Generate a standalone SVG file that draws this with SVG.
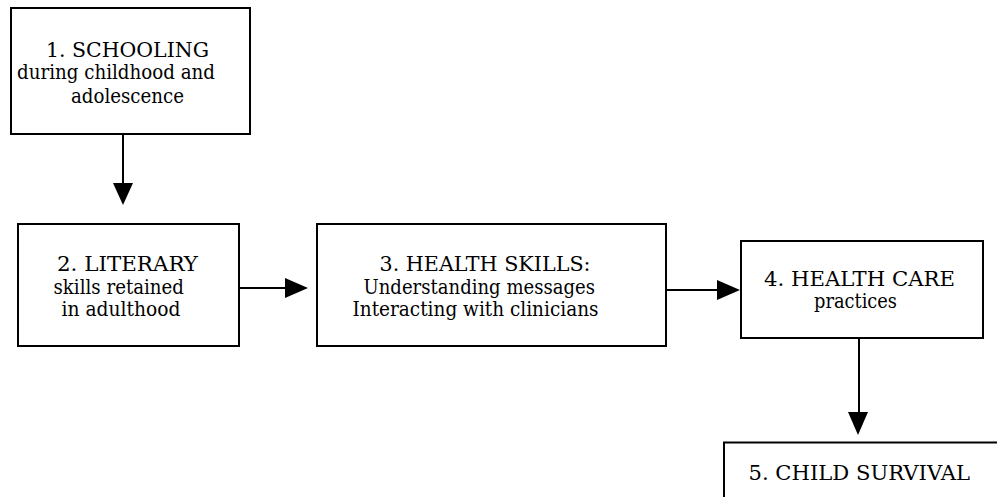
<svg xmlns="http://www.w3.org/2000/svg" width="997" height="497" viewBox="0 0 997 497">
<style>
.box{fill:#fff;stroke:#000;stroke-width:2}
.t{font-family:"DejaVu Serif","Liberation Serif",serif;font-size:20px;fill:#000}
.c{stroke:#000;stroke-width:2;fill:none}
.h{fill:#000;stroke:none}
</style>
<rect width="997" height="497" fill="#fff"/>
<g id="node1">
<rect class="box" x="11" y="8" width="239" height="126"/>
<text class="t" x="46" y="56.5" textLength="163" lengthAdjust="spacingAndGlyphs">1. SCHOOLING</text>
<text class="t" x="17" y="78.5" textLength="198" lengthAdjust="spacingAndGlyphs">during childhood and</text>
<text class="t" x="71" y="102.5" textLength="113" lengthAdjust="spacingAndGlyphs">adolescence</text>
</g>
<g id="node2">
<rect class="box" x="18" y="224" width="221" height="122"/>
<text class="t" x="57" y="270.5" textLength="141" lengthAdjust="spacingAndGlyphs">2. LITERARY</text>
<text class="t" x="53.5" y="294" textLength="130.5" lengthAdjust="spacingAndGlyphs">skills retained</text>
<text class="t" x="61.5" y="316" textLength="119" lengthAdjust="spacingAndGlyphs">in adulthood</text>
</g>
<g id="node3">
<rect class="box" x="317" y="224" width="349" height="122"/>
<text class="t" x="379.5" y="270.5" textLength="211" lengthAdjust="spacingAndGlyphs">3. HEALTH SKILLS:</text>
<text class="t" x="363.5" y="294" textLength="231.5" lengthAdjust="spacingAndGlyphs">Understanding messages</text>
<text class="t" x="352.5" y="316" textLength="246" lengthAdjust="spacingAndGlyphs">Interacting with clinicians</text>
</g>
<g id="node4">
<rect class="box" x="741" y="241" width="242" height="97"/>
<text class="t" x="764" y="285.5" textLength="191" lengthAdjust="spacingAndGlyphs">4. HEALTH CARE</text>
<text class="t" x="814" y="307.5" textLength="83" lengthAdjust="spacingAndGlyphs">practices</text>
</g>
<g id="node5">
<rect class="box" x="724" y="442.5" width="290" height="80"/>
<text class="t" x="748.5" y="480" textLength="221.5" lengthAdjust="spacingAndGlyphs">5. CHILD SURVIVAL</text>
</g>
<g id="connectors">
<line class="c" x1="123" y1="134" x2="123" y2="184"/>
<polygon class="h" points="113,183 133,183 123,205"/>
<line class="c" x1="239" y1="288" x2="286" y2="288"/>
<polygon class="h" points="285,278 285,298 308,288"/>
<line class="c" x1="666" y1="290" x2="718" y2="290"/>
<polygon class="h" points="717,280 717,300 740,290"/>
<line class="c" x1="859" y1="338" x2="859" y2="413"/>
<polygon class="h" points="848,412 868,412 858,435"/>
</g>
</svg>
